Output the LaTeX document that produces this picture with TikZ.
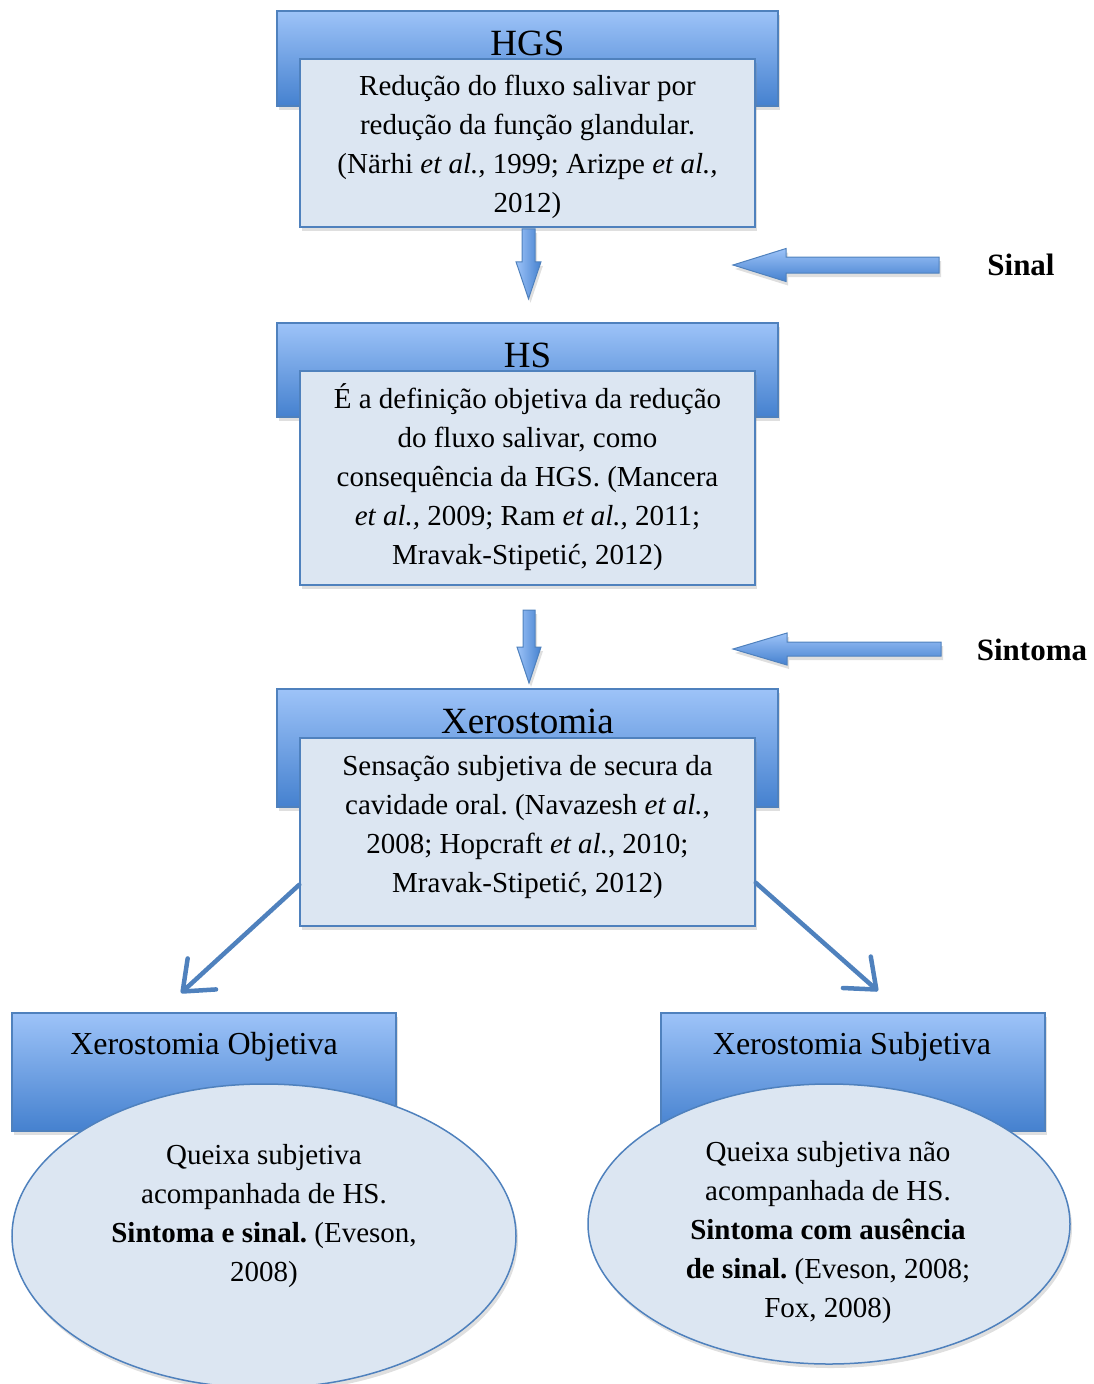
\documentclass[tikz,border=0pt]{standalone}
\usepackage{fontspec}
\setmainfont{Liberation Serif}
\frenchspacing
\usetikzlibrary{shadows,calc,arrows.meta,shapes.geometric}
\definecolor{bord}{HTML}{4F81BD}
\definecolor{boxfill}{HTML}{DCE6F2}
\definecolor{htop}{HTML}{9DC3F8}
\definecolor{hmid}{HTML}{7EADEC}
\definecolor{hbot}{HTML}{4581CF}
\tikzset{
  shad/.style={drop shadow={opacity=0.25, shadow xshift=2pt, shadow yshift=-4pt}},
  header/.style={rectangle, draw=bord, line width=1.3pt, top color=htop, middle color=hmid, bottom color=hbot, inner sep=0pt, shad},
  bodybox/.style={rectangle, draw=bord, line width=1.5pt, fill=boxfill, inner sep=0pt, shad},
  ellbox/.style={ellipse, draw=bord, line width=1.5pt, fill=boxfill, inner sep=0pt, shad},
  txt/.style={align=center, font=\fontsize{29}{39}\selectfont, inner sep=0pt},
  bigttl/.style={font=\fontsize{37}{40}\selectfont, inner sep=0pt},
  smallttl/.style={font=\fontsize{32}{36}\selectfont, inner sep=0pt},
  lbl/.style={font=\bfseries\fontsize{31}{34}\selectfont, inner sep=0pt},
  vblock/.style={draw=bord, line width=1pt, left color=htop, right color=hbot, shad},
  hblock/.style={draw=bord, line width=1pt, top color=htop, bottom color=hbot, shad},
  diag/.style={draw=bord, line width=4.5pt, line cap=round, -{Straight Barb[length=26pt,width=42pt,round]}}
}
\begin{document}
\begin{tikzpicture}[x=1pt,y=-1pt]
\useasboundingbox (0,0) rectangle (1094,1384);
% level 1
\node[header, minimum width=501pt, minimum height=95pt] (h1) at (527.5,58.5) {};
\node[bigttl] (t1) at (527.5,43) {HGS};
\node[bodybox, minimum width=455pt, minimum height=168pt] (b1) at (527.5,143) {};
\node[txt] (x1) at (527.5,147) {Redução do fluxo salivar por\\redução da função glandular.\\(Närhi \textit{et al.,} 1999; Arizpe \textit{et al.,}\\2012)};
% level 2
\node[header, minimum width=501pt, minimum height=94pt] (h2) at (527.5,370) {};
\node[bigttl] (t2) at (527.5,355) {HS};
\node[bodybox, minimum width=455pt, minimum height=214pt] (b2) at (527.5,478) {};
\node[txt] (x2) at (527.5,477) {É a definição objetiva da redução\\do fluxo salivar, como\\consequência da HGS. (Mancera\\\textit{et al.,} 2009; Ram \textit{et al.,} 2011;\\Mravak-Stipetić, 2012)};
% level 3
\node[header, minimum width=501pt, minimum height=118pt] (h3) at (527.5,748) {};
\node[bigttl] (t3) at (527.5,721) {Xerostomia};
\node[bodybox, minimum width=455pt, minimum height=188pt] (b3) at (527.5,832) {};
\node[txt] (x3) at (527.5,827) {Sensação subjetiva de secura da\\cavidade oral. (Navazesh \textit{et al.},\\2008; Hopcraft \textit{et al.}, 2010;\\Mravak-Stipetić, 2012)};
% bottom left
\node[header, minimum width=384pt, minimum height=118pt] (h4) at (204,1072) {};
\node[smallttl] (t4) at (204,1047) {Xerostomia Objetiva};
\node[ellbox, minimum width=504pt, minimum height=304pt] (e4) at (264,1236) {};
\node[txt] (x4) at (264,1216) {Queixa subjetiva\\acompanhada de HS.\\\textbf{Sintoma e sinal.} (Eveson,\\2008)};
% bottom right
\node[header, minimum width=384pt, minimum height=118pt] (h5) at (853,1072) {};
\node[smallttl] (t5) at (852,1047) {Xerostomia Subjetiva};
\node[ellbox, minimum width=482pt, minimum height=280pt] (e5) at (829,1224) {};
\node[txt] (x5) at (828,1233) {Queixa subjetiva não\\acompanhada de HS.\\\textbf{Sintoma com ausência}\\\textbf{de sinal.} (Eveson, 2008;\\Fox, 2008)};
% labels
\node[lbl] (l1) at (1021,265) {Sinal};
\node[lbl] (l2) at (1032,650) {Sintoma};
% block arrows down
\draw[vblock] ($(b1.south)+(-5.5,1)$) -- ++(13,0) -- ++(0,33) -- ++(6,0) -- ++(-12.5,37) -- ++(-12.5,-37) -- ++(6,0) -- cycle;
\coordinate (d2) at (529,610);
\draw[vblock] ($(d2)+(-6,0)$) -- ++(12,0) -- ++(0,37) -- ++(6,0) -- ++(-12,36) -- ++(-12,-36) -- ++(6,0) -- cycle;
% block arrows left
\coordinate (s1) at (733,265);
\draw[hblock] (s1) -- ++(53,-16.5) -- ++(0,8.5) -- ++(153,0) -- ++(0,16) -- ++(-153,0) -- ++(0,8.5) -- cycle;
\coordinate (s2) at (733,649);
\draw[hblock] (s2) -- ++(54,-16) -- ++(0,9) -- ++(154,0) -- ++(0,14) -- ++(-154,0) -- ++(0,9) -- cycle;
% diagonal arrows
\coordinate (tipL) at (181,993);
\coordinate (tipR) at (878,991);
\draw[diag] ($(b3.south west)+(0,-42)$) -- (tipL);
\draw[diag] ($(b3.south east)+(0,-44)$) -- (tipR);
\end{tikzpicture}
\end{document}
